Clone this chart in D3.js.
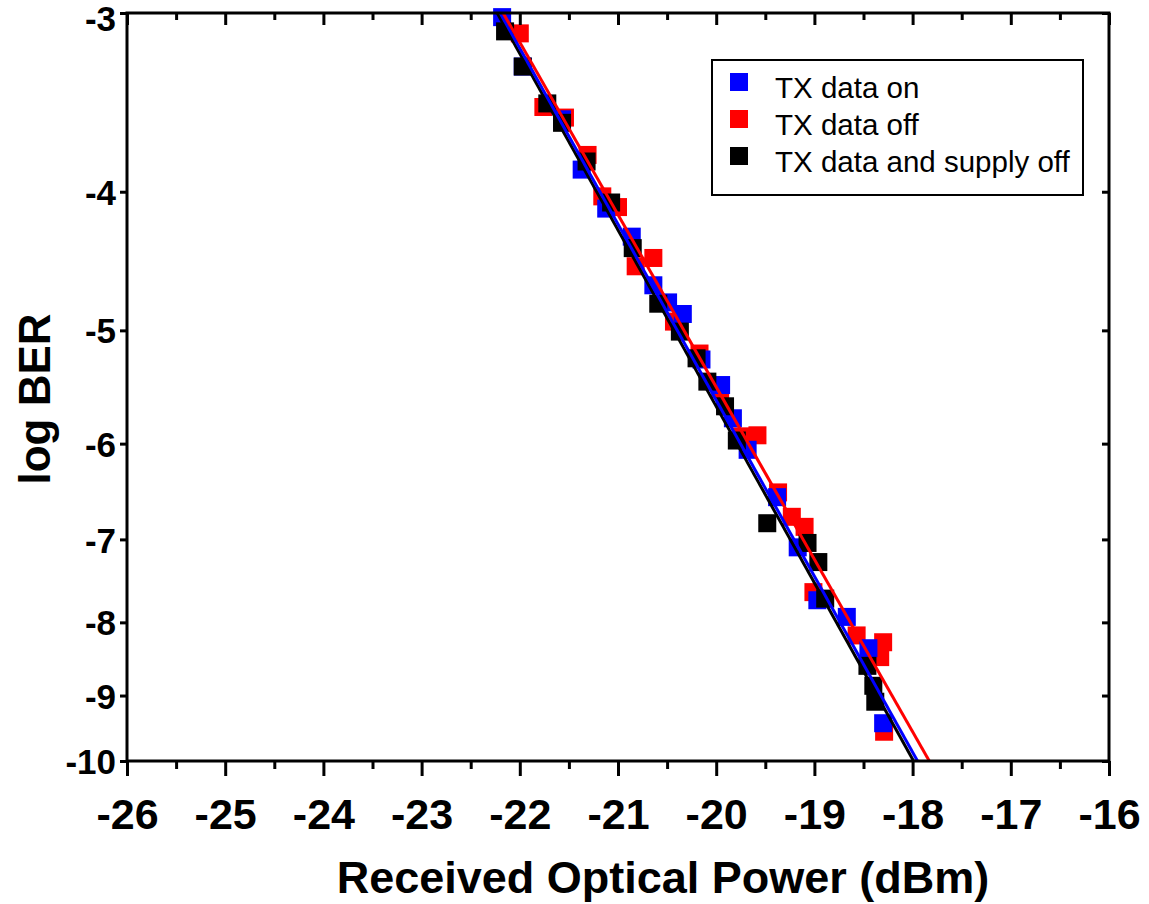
<!DOCTYPE html>
<html>
<head>
<meta charset="utf-8">
<script src="https://cdn.jsdelivr.net/npm/d3@7"></script>
<style>
  body { margin: 0; background: #fff; }
  text { font-family: Arial, "Liberation Sans", sans-serif; }
</style>
</head>
<body>
<div id="chart"></div>
<script>
// received power (dBm) and log BER
var onPower = [-22.18, -21.97, -21.57, -21.37, -21.12, -20.86, -20.64, -20.49, -20.34, -20.15,
               -19.95, -19.83, -19.68, -19.38, -19.17, -18.97, -18.67, -18.45, -18.30];
var onBer   = [-3.02, -3.27, -3.56, -3.86, -4.11, -4.30, -4.65, -4.78, -4.87, -5.24,
               -5.46, -5.76, -6.06, -6.54, -7.09, -7.72, -7.93, -8.34, -9.41];

var offPower = [-22.00, -21.76, -21.54, -21.31, -21.16, -21.00, -20.82, -20.64, -20.43, -20.17,
                -19.96, -19.75, -19.58, -19.37, -19.23, -19.10, -19.01, -18.57, -18.30, -18.33, -18.29];
var offBer   = [-3.10, -3.49, -3.55, -3.77, -4.03, -4.10, -4.51, -4.45, -4.93, -5.19,
                -5.50, -5.93, -5.92, -6.49, -6.75, -6.86, -7.62, -8.17, -8.26, -8.46, -9.54];

var supPower = [-22.15, -21.97, -21.72, -21.57, -21.32, -21.07, -20.85, -20.59, -20.37, -20.20,
                -20.09, -19.91, -19.79, -19.48, -19.07, -18.96, -18.89, -18.46, -18.40, -18.38];
var supBer   = [-3.09, -3.27, -3.47, -3.58, -3.81, -4.07, -4.38, -4.79, -5.01, -5.23,
                -5.43, -5.65, -5.97, -6.82, -7.04, -7.26, -7.70, -8.58, -8.86, -9.09];

// linear fits: power where each fit crosses log BER -3 and -10
var fitBer = [-3, -10];
var fitOn  = [-22.20, -17.95];
var fitOff = [-22.17, -17.83];
var fitSup = [-22.23, -17.99];

var seriesNames = ["TX data on", "TX data off", "TX data and supply off"];
var xTicks = [-26, -25, -24, -23, -22, -21, -20, -19, -18, -17, -16];
var yTicks = [-3, -4, -5, -6, -7, -8, -9, -10];

var colors = {on: "#0000ff", off: "#ff0000", sup: "#000000"};

var width = 1149, height = 904;
var mLeft = 127, mRight = 1109, mTop = 13, mBottom = 761;

var svg = d3.select("#chart").append("svg")
    .attr("width", width)
    .attr("height", height)
    .style("background", "#fff");

var x = d3.scaleLinear().domain([-26, -16]).range([mLeft, mRight]);
// BER axis is log of -log BER
var y = d3.scaleLog().domain([-3, -10]).range([mTop, mBottom]);

function pts(px, py) {
    return px.map(function(p, i) { return {x: p, y: py[i]}; });
}

var series = [
    {key: "off", data: pts(offPower, offBer)},
    {key: "on", data: pts(onPower, onBer)},
    {key: "sup", data: pts(supPower, supBer)}
];

// markers
var ms = 18;
series.forEach(function(s) {
    svg.append("g").selectAll("rect")
        .data(s.data)
        .enter().append("rect")
        .attr("x", function(d) { return x(d.x) - ms / 2; })
        .attr("y", function(d) { return y(d.y) - ms / 2; })
        .attr("width", ms)
        .attr("height", ms)
        .attr("fill", colors[s.key]);
});

// fit lines
var line = d3.line()
    .x(function(d) { return x(d.x); })
    .y(function(d) { return y(d.y); });

[{key: "sup", p: fitSup}, {key: "on", p: fitOn}, {key: "off", p: fitOff}].forEach(function(f) {
    svg.append("path")
        .datum(pts(f.p, fitBer))
        .attr("d", line)
        .attr("fill", "none")
        .attr("stroke", colors[f.key])
        .attr("stroke-width", 3);
});

// axes
var minor = d3.range(-25.5, -16, 1);
var plain = function(d) { return String(d); };

function styleAxis(g) {
    g.select(".domain").remove();
    g.selectAll(".tick line").attr("stroke", "#000").attr("stroke-width", 3);
}

var xb = svg.append("g")
    .attr("transform", "translate(0," + mBottom + ")")
    .call(d3.axisBottom(x).tickValues(xTicks).tickSize(15).tickPadding(22).tickFormat(plain));
styleAxis(xb);
xb.selectAll(".tick text")
    .attr("font-size", 43).attr("font-weight", "bold").attr("fill", "#000")
    .attr("font-family", "Arial, 'Liberation Sans', sans-serif");

svg.append("g")
    .attr("transform", "translate(0," + mBottom + ")")
    .call(d3.axisBottom(x).tickValues(minor).tickSize(8).tickFormat(""))
    .call(styleAxis);

svg.append("g")
    .attr("transform", "translate(0," + mTop + ")")
    .call(d3.axisBottom(x).tickValues(xTicks).tickSize(12).tickFormat(""))
    .call(styleAxis);
svg.append("g")
    .attr("transform", "translate(0," + mTop + ")")
    .call(d3.axisBottom(x).tickValues(minor).tickSize(7).tickFormat(""))
    .call(styleAxis);

var yl = svg.append("g")
    .attr("transform", "translate(" + mLeft + ",0)")
    .call(d3.axisLeft(y).tickValues(yTicks).tickSize(7).tickPadding(4).tickFormat(plain));
styleAxis(yl);
yl.selectAll(".tick text")
    .attr("font-size", 35).attr("font-weight", "bold").attr("fill", "#000")
    .attr("dy", function(d) { return d === -3 ? "0.5em" : "0.36em"; })
    .attr("font-family", "Arial, 'Liberation Sans', sans-serif");

svg.append("g")
    .attr("transform", "translate(" + mRight + ",0)")
    .call(d3.axisLeft(y).tickValues(yTicks).tickSize(7).tickFormat(""))
    .call(styleAxis);

// frame
svg.append("rect")
    .attr("x", mLeft).attr("y", mTop)
    .attr("width", mRight - mLeft).attr("height", mBottom - mTop)
    .attr("fill", "none").attr("stroke", "#000").attr("stroke-width", 3);

// axis titles
svg.append("text")
    .attr("x", 663)
    .attr("y", 893)
    .attr("text-anchor", "middle")
    .attr("font-size", 45).attr("font-weight", "bold")
    .text("Received Optical Power (dBm)");

svg.append("text")
    .attr("transform", "translate(50,399) rotate(-90)")
    .attr("text-anchor", "middle")
    .attr("font-size", 44).attr("font-weight", "bold")
    .text("log BER");

// legend
var lg = svg.append("g").attr("transform", "translate(712,60)");
lg.append("rect")
    .attr("width", 371).attr("height", 135)
    .attr("fill", "#fff").attr("stroke", "#000").attr("stroke-width", 2);

var legendItems = lg.selectAll(".item")
    .data(seriesNames)
    .enter().append("g")
    .attr("transform", function(d, i) { return "translate(0," + (22 + i * 37) + ")"; });
legendItems.append("rect")
    .attr("x", 18).attr("y", -9)
    .attr("width", 18).attr("height", 18)
    .attr("fill", function(d, i) { return [colors.on, colors.off, colors.sup][i]; });
legendItems.append("text")
    .attr("x", 63).attr("y", 16)
    .attr("font-size", 29.5)
    .text(function(d) { return d; });
</script>
</body>
</html>
